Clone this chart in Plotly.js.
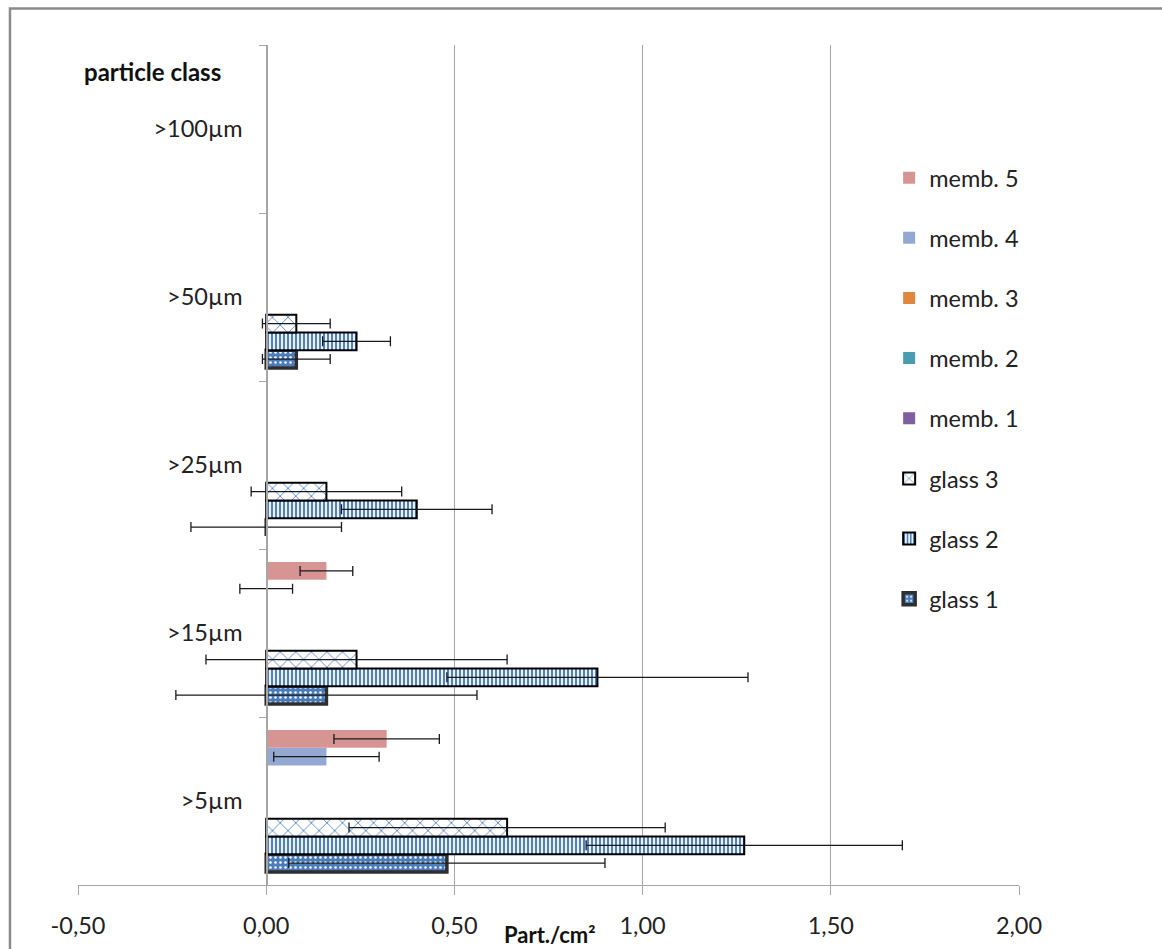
<!DOCTYPE html>
<html>
<head>
<meta charset="utf-8">
<script src="https://cdn.plot.ly/plotly-3.0.1.min.js"></script>
<style>html,body{margin:0;padding:0;background:#fff;}#chart{width:1162px;height:949px;}</style>
</head>
<body>
<div id="chart"></div>
<script>
var categories = ['>5µm', '>15µm', '>25µm', '>50µm', '>100µm'];
var seriesNames = ['glass 1', 'glass 2', 'glass 3', 'memb. 1', 'memb. 2', 'memb. 3', 'memb. 4', 'memb. 5'];
var glass1 = [0.48, 0.16, 0, 0.08, null];
var glass1Err = [0.42, 0.40, 0.20, 0.09, null];
var glass2 = [1.27, 0.88, 0.40, 0.24, null];
var glass2Err = [0.42, 0.40, 0.20, 0.09, null];
var glass3 = [0.64, 0.24, 0.16, 0.08, null];
var glass3Err = [0.42, 0.40, 0.20, 0.09, null];
var memb1 = [null, null, null, null, null];
var memb1Err = [null, null, null, null, null];
var memb2 = [null, null, null, null, null];
var memb2Err = [null, null, null, null, null];
var memb3 = [null, null, null, null, null];
var memb3Err = [null, null, null, null, null];
var memb4 = [0.16, 0, null, null, null];
var memb4Err = [0.14, 0.07, null, null, null];
var memb5 = [0.32, 0.16, null, null, null];
var memb5Err = [0.14, 0.07, null, null, null];
var xTicks = [-0.5, 0, 0.5, 1.0, 1.5, 2.0];
var xTickLabels = ['-0,50', '0,00', '0,50', '1,00', '1,50', '2,00'];

var values = [glass1, glass2, glass3, memb1, memb2, memb3, memb4, memb5];
var errors = [glass1Err, glass2Err, glass3Err, memb1Err, memb2Err, memb3Err, memb4Err, memb5Err];

var markers = [
  {color: '#4F81BD', line: {color: '#2E2E2E', width: 3.5},
   pattern: {shape: '.', fgcolor: '#FFFFFF', bgcolor: '#4A7CBC', size: 5, solidity: 0.2}},
  {color: '#4F81BD', line: {color: '#000000', width: 2},
   pattern: {shape: '|', fgcolor: '#4F81BD', bgcolor: '#FFFFFF', size: 4, solidity: 0.55}},
  {color: '#4F81BD', line: {color: '#000000', width: 2},
   pattern: {shape: 'x', fgcolor: '#4F81BD', bgcolor: '#FFFFFF', size: 11, solidity: 0.15}},
  {color: '#7E5FA0'},
  {color: '#4A9DB1'},
  {color: '#E2853F'},
  {color: '#93A9D4'},
  {color: '#D69593'}
];

var traces = seriesNames.map(function (name, i) {
  return {
    type: 'bar',
    orientation: 'h',
    name: name,
    legendgroup: 'g' + i,
    legendrank: 100 - i,
    y: categories,
    x: values[i],
    marker: markers[i],
    error_x: {type: 'data', array: errors[i], visible: true, color: '#1A1A1A', thickness: 1.3, width: 5},
    hoverinfo: 'x+name'
  };
});

var layout = {
  width: 1162,
  height: 949,
  margin: {l: 78, r: 143, t: 45, b: 64},
  paper_bgcolor: '#FFFFFF',
  plot_bgcolor: '#FFFFFF',
  separators: ',.',
  barmode: 'group',
  bargap: 0.155,
  bargroupgap: 0,
  font: {family: 'Lato, "Open Sans", sans-serif', size: 23.5, color: '#222222'},
  showlegend: true,
  legend: {
    x: 0.862, xanchor: 'left', y: 0.868, yanchor: 'top',
    traceorder: 'grouped', tracegroupgap: 26.6,
    font: {size: 23.5, color: '#222222'},
    bgcolor: 'rgba(0,0,0,0)'
  },
  xaxis: {
    range: [-0.5, 2.0],
    tickvals: xTicks,
    ticktext: xTickLabels,
    showgrid: true,
    gridcolor: '#A6A6A6',
    gridwidth: 1.3,
    zeroline: false,
    showline: true,
    linecolor: '#A6A6A6',
    linewidth: 1.3,
    ticks: 'outside',
    ticklen: 9,
    tickcolor: '#A6A6A6',
    ticklabelstandoff: 10,
    tickfont: {size: 23.5, color: '#222222'},
    fixedrange: true
  },
  yaxis: {
    type: 'category',
    categoryorder: 'array',
    categoryarray: categories,
    anchor: 'free',
    position: 0.2,
    showgrid: false,
    zeroline: false,
    showline: true,
    linecolor: '#A6A6A6',
    linewidth: 1.3,
    ticks: 'outside',
    tickson: 'boundaries',
    ticklen: 7,
    tickcolor: '#A6A6A6',
    ticklabelstandoff: 19,
    tickfont: {size: 23.5, color: '#222222'},
    fixedrange: true
  },
  annotations: [
    {text: '<b>particle class</b>', xref: 'paper', yref: 'paper', x: 0.004, y: 0.968,
     xanchor: 'left', yanchor: 'middle', showarrow: false, font: {size: 24, color: '#111111'}},
    {text: '<b>Part./cm²</b>', xref: 'paper', yref: 'paper', x: 0.5016, y: -0.0585,
     xanchor: 'center', yanchor: 'middle', showarrow: false, font: {size: 22, color: '#111111'}}
  ],
  shapes: [
    {type: 'rect', xref: 'paper', yref: 'paper', x0: -0.0723, x1: 1.2, y0: -0.2, y1: 1.0435,
     line: {color: '#8C8C8C', width: 2.5}, fillcolor: 'rgba(0,0,0,0)', layer: 'below'}
  ]
};

Plotly.newPlot('chart', traces, layout, {displayModeBar: false, staticPlot: true});
</script>
</body>
</html>
